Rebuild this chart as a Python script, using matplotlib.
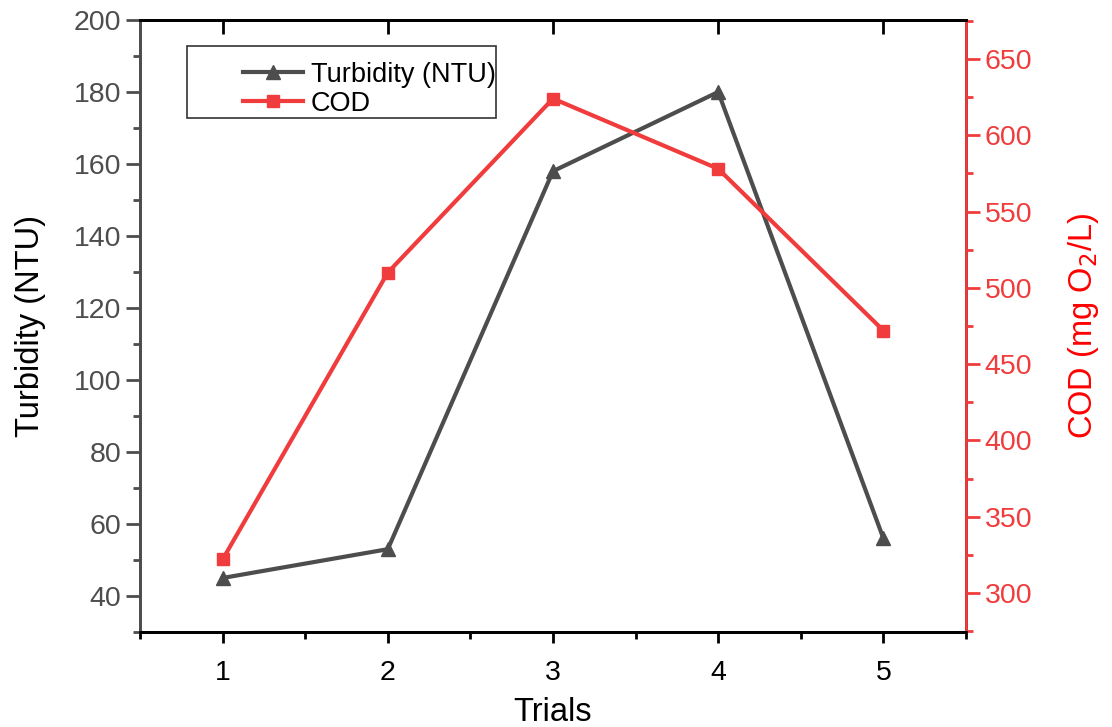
import matplotlib.pyplot as plt
from matplotlib.ticker import MultipleLocator
from matplotlib.lines import Line2D
from matplotlib.patches import Rectangle

plt.rcParams['font.family'] = ['Liberation Sans', 'DejaVu Sans']

trials = [1, 2, 3, 4, 5]
turbidity = [45, 53, 158, 180, 56]
cod = [322, 510, 624, 578, 472]

gray = '#4d4d4d'
red = '#f03c3c'

fig = plt.figure(figsize=(11.12, 7.27), dpi=100)
ax = fig.add_axes([0.1259, 0.1307, 0.7428, 0.8418])
ax2 = ax.twinx()

ax.plot(trials, turbidity, color=gray, lw=3, marker='^', ms=10)
ax2.plot(trials, cod, color=red, lw=3, marker='s', ms=9)

ax.set_xlim(0.5, 5.5)
ax.set_ylim(30, 200)
ax2.set_ylim(274.5, 675.5)

ax.xaxis.set_major_locator(MultipleLocator(1))
ax.xaxis.set_minor_locator(MultipleLocator(0.5))
ax.yaxis.set_major_locator(MultipleLocator(20))
ax.yaxis.set_minor_locator(MultipleLocator(10))
ax2.yaxis.set_major_locator(MultipleLocator(50))
ax2.yaxis.set_minor_locator(MultipleLocator(25))

ax.tick_params(axis='x', which='both', direction='out', colors='black', labelsize=20.5, width=2, pad=12)
ax.tick_params(axis='x', which='major', length=8)
ax.tick_params(axis='x', which='minor', length=5)
ax.tick_params(axis='y', which='both', direction='out', colors=gray, labelsize=20.5, width=2)
ax.tick_params(axis='y', which='major', length=10)
ax.tick_params(axis='y', which='minor', length=5)
ax2.tick_params(axis='y', which='both', direction='out', colors=red, labelsize=20.5, width=2)
ax2.tick_params(axis='y', which='major', length=10)
ax2.tick_params(axis='y', which='minor', length=5)

for sp in ax.spines.values():
    sp.set_linewidth(2)
for sp in ax2.spines.values():
    sp.set_linewidth(2)
ax.spines['left'].set_color(gray)
ax.spines['bottom'].set_color('black')
ax.spines['top'].set_color('black')
ax2.spines['right'].set_color(red)
ax2.spines['left'].set_color(gray)
ax2.spines['top'].set_color('black')

# top axis inward ticks at major x positions
ax_top = ax.secondary_xaxis('top')
ax_top.xaxis.set_major_locator(MultipleLocator(1))
ax_top.tick_params(axis='x', direction='in', length=10, width=2, labeltop=False, colors='black')
ax_top.spines['top'].set_visible(False)

ax.set_xlabel('Trials', fontsize=23.5, labelpad=8)
ax.set_ylabel('Turbidity (NTU)', fontsize=23.5, labelpad=20)
ax2.set_ylabel('COD (mg O$_2$/L)', fontsize=23.5, color='red', labelpad=24)

handles = [Line2D([], [], color=gray, lw=3, marker='^', ms=10),
           Line2D([], [], color=red, lw=3, marker='s', ms=9)]
leg = ax.legend(handles, ['Turbidity (NTU)', 'COD'], loc='upper left',
                bbox_to_anchor=(0.1247, 0.932), fontsize=19.5, frameon=False,
                handlelength=2.2, borderpad=0, labelspacing=0.12,
                handletextpad=0.3, borderaxespad=0)
ax.add_patch(Rectangle((0.0569, 0.840), 0.374, 0.1176, transform=ax.transAxes,
                       fill=False, edgecolor='#333333', lw=1.2, zorder=4))

fig.savefig('out.png', dpi=100)
